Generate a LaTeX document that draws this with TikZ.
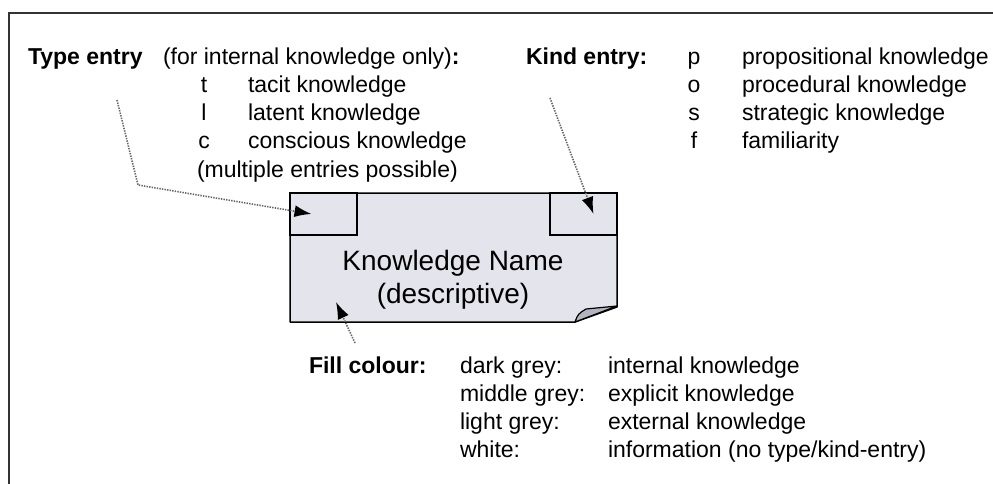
\documentclass[tikz,border=0pt]{standalone}
\usepackage{fontspec}
\setmainfont{Liberation Sans}
\usetikzlibrary{arrows.meta}
\definecolor{notefill}{RGB}{228,228,236}
\definecolor{flapfill}{RGB}{180,180,192}

\begin{document}
\begin{tikzpicture}[x=1pt,y=-1pt,line width=0.2pt,
  every node/.style={inner sep=0pt,outer sep=0pt},
  txt/.style={anchor=base west,font=\fontsize{23}{28}\selectfont},
  hdr/.style={txt,font=\fontsize{23}{28}\selectfont\bfseries},
  ltr/.style={anchor=base,font=\fontsize{23}{28}\selectfont},
  big/.style={anchor=base,font=\fontsize{28}{33}\selectfont},
  entrybox/.style={draw,line width=1.5pt,minimum width=67pt,minimum height=42pt,anchor=north west},
  pointer/.style={draw=black!60,line width=1.6pt,dash pattern=on 1.4pt off 1.2pt,
    -{Latex[length=17pt,width=12pt,black]}}]
  \useasboundingbox (0,0) rectangle (993,484);
  % frame
  \draw[line width=1.5pt,black!80] (993,13) -- (9,13) -- (9,484);
  % the note with its folded corner
  \filldraw[fill=notefill,line width=1.5pt,line join=round]
    (290,193) -- (617,193) -- (617,307) -- (575,322) -- (290,322) -- cycle;
  \filldraw[fill=flapfill,line width=1.2pt,line join=round]
    (575,322) .. controls (578,314) .. (586,309) -- (617,306) -- cycle;
  \node[entrybox] (type box) at (290,193) {};
  \node[entrybox,anchor=north east] (kind box) at (617,193) {};
  \node[big] (name) at (453,270) {Knowledge Name};
  \node[big] (descr) at (453,303) {(descriptive)};

  % type entry
  \node[hdr] (type head) at (28,65) {Type entry};
  \node[txt] (type note) at (163,65) {(for internal knowledge only)\textbf{:}};
  \foreach \ltr/\desc [count=\i] in {t/tacit knowledge,l/latent knowledge,c/conscious knowledge}{%
    \node[ltr] (type-\ltr) at (204,65+28*\i) {\ltr};
    \node[txt] (type desc-\ltr) at (248,65+28*\i) {\desc};
  }
  \node[txt] (multi) at (197,177) {(multiple entries possible)};

  % kind entry
  \node[hdr] (kind head) at (526,65) {Kind entry:};
  \foreach \ltr/\desc [count=\i from 0] in {p/propositional knowledge,o/procedural knowledge,
      s/strategic knowledge,f/familiarity}{%
    \node[ltr] (kind-\ltr) at (694,65+28*\i) {\ltr};
    \node[txt] (kind desc-\ltr) at (742,65+28*\i) {\desc};
  }

  % fill colour
  \node[hdr] (fill head) at (309,373) {Fill colour:};
  \foreach \tone/\desc [count=\i from 0] in {dark grey:/internal knowledge,middle grey:/explicit knowledge,
      light grey:/external knowledge,white:/{information (no type/kind-entry)}}{%
    \node[txt] (tone-\i) at (460,373+28*\i) {\tone};
    \node[txt] (tone desc-\i) at (608,373+28*\i) {\desc};
  }

  % pointers
  \coordinate (type tail) at (117,100);
  \coordinate (type bend) at (138,185);
  \coordinate (kind tail) at (550,98);
  \coordinate (fill tail) at (355,343);
  \coordinate (fill tip) at (336,302);
  \draw[pointer] (type tail) -- (type bend) -- ([shift={(-12,0)}]type box.center);
  \draw[pointer] (kind tail) -- ([shift={(10,0)}]kind box.center);
  \draw[pointer] (fill tail) -- (fill tip);
\end{tikzpicture}
\end{document}
